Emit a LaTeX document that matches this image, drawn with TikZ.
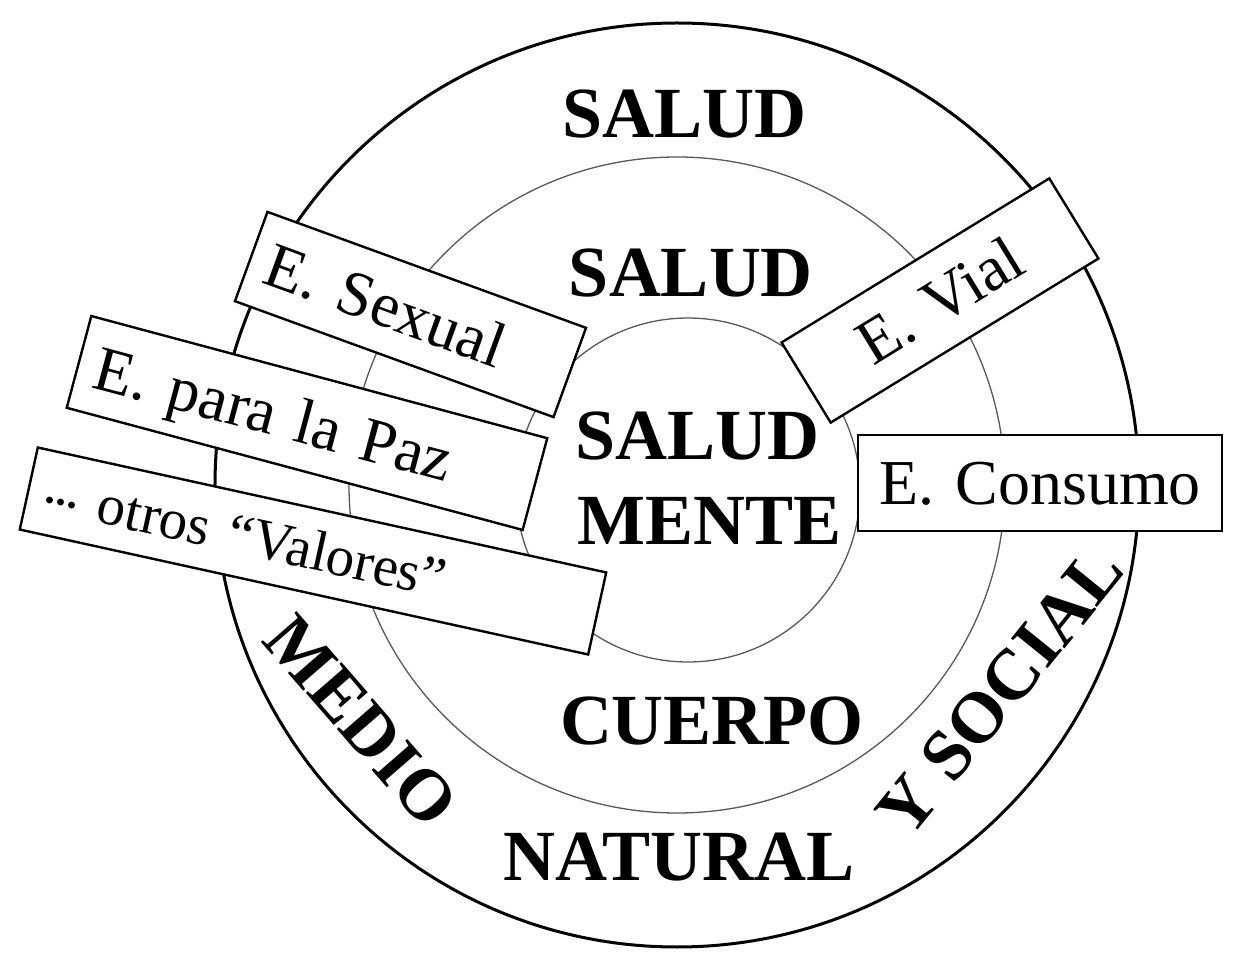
\documentclass[tikz,border=0pt]{standalone}
\usepackage{fontspec}
\setmainfont{Liberation Serif}
\begin{document}
\begin{tikzpicture}[x=1pt,y=1pt,
  ring/.style={circle, draw=black!65, line width=1.3pt, inner sep=0pt},
  outerring/.style={circle, draw=black, line width=3pt, inner sep=0pt},
  biglabel/.style={font=\fontsize{72}{80}\selectfont\bfseries, inner sep=0pt},
  tag/.style={draw=black, line width=2.4pt, fill=white, font=\fontsize{64}{70}\selectfont,
    inner ysep=0pt, minimum height=95pt, text height=46pt, text depth=3.6pt},
]
\useasboundingbox (-677,-470) rectangle (571,485);
\fill[white] (-677,-470) rectangle (571,485);

% circles
\node[outerring, minimum size=924pt] (outer) at (0,0) {};
\node[ring, minimum size=656pt] (middle) at (0,0) {};
\node[ring, minimum size=344pt] (inner) at (11,-5) {};

% labels
\node[biglabel, anchor=base] (salud1) at (7.5,347) {SALUD};
\node[biglabel, anchor=base] (salud2) at (14,188) {SALUD};
\node[biglabel, anchor=base west] (salud3) at (-102,25) {SALUD};
\node[biglabel, anchor=base west] (mente) at (-100,-60) {MENTE};
\node[biglabel, anchor=base] (cuerpo) at (35,-260) {CUERPO};
\node[biglabel, anchor=base] (natural) at (2,-395) {NATURAL};
\node[biglabel, rotate=-49] (medio) at (-316,-236) {MEDIO};
\node[biglabel, rotate=51] (social) at (323,-206) {Y SOCIAL};

% boxes
\node[tag, rotate=-20, inner xsep=18pt, text width=303pt, align=left] (sexual) at (-266.5,170.5) {E. Sexual};
\node[tag, rotate=-15, inner xsep=18pt, text width=436pt, align=left] (paz) at (-370,62) {E. para la Paz};
\node[tag, rotate=-12.4, inner xsep=16pt, text width=550pt, align=left, minimum height=84pt,
  font=\fontsize{57}{62}\selectfont, text height=40pt, text depth=3pt] (otros) at (-364,-66)
  {\raisebox{9pt}{.\kern-3pt.\kern-3pt.} otros “Valores”};
\node[tag, rotate=31.5, inner xsep=17pt, text width=280pt, align=center, minimum height=94pt] (vial) at (263,184.5) {E. Vial};
\node[tag, inner xsep=17pt, text width=330pt, align=center, minimum height=96pt] (consumo) at (363,2) {E. Consumo};
\end{tikzpicture}
\end{document}
